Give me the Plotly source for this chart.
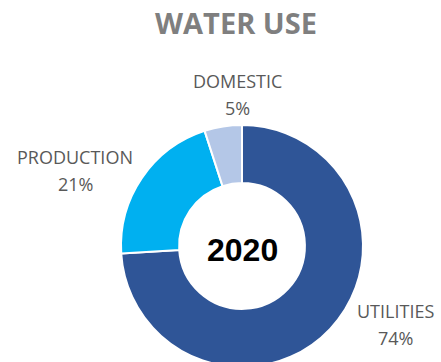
import plotly.graph_objects as go

# Water use breakdown, 2020
categories = ["UTILITIES", "PRODUCTION", "DOMESTIC"]
shares = [74, 21, 5]
colors = ["#2F5597", "#00B0F0", "#B4C7E7"]
title_text = "WATER USE"
year_text = "2020"

W, H = 441, 400  # canvas taller than the window, so the ring runs off the bottom edge


def px(x, y):
    """Pixel position (from top-left) to paper coordinates."""
    return x / W, 1 - y / H


# ring geometry in pixels
cx, cy, r = 242, 246, 121
x0, y_top = px(cx - r, cy - r)
x1, y_bot = px(cx + r, cy + r)

fig = go.Figure(
    go.Pie(
        labels=categories,
        values=shares,
        hole=0.52,
        sort=False,
        direction="clockwise",
        rotation=0,
        marker=dict(colors=colors, line=dict(color="white", width=2)),
        textinfo="none",
        hoverinfo="label+percent",
        domain=dict(x=[x0, x1], y=[y_bot, y_top]),
        showlegend=False,
    )
)

# outside labels: category name on one line, its share on the next
label_pos = {
    "UTILITIES": (395, 311),
    "PRODUCTION": (75, 157),
    "DOMESTIC": (237, 81),
}
line_gap = 27
label_font = dict(family="Open Sans", size=18, color="#595959")
annotations = []
for cat, val in zip(categories, shares):
    bx, by = label_pos[cat]
    for text, yy_px in ((cat, by), (f"{val}%", by + line_gap)):
        lx, ly = px(bx, yy_px)
        annotations.append(
            dict(
                x=lx, y=ly, xref="paper", yref="paper",
                text=text, showarrow=False,
                xanchor="center", yanchor="middle",
                font=label_font,
            )
        )

# year in the middle of the ring
yx, yy = px(242, 250)
annotations.append(
    dict(
        x=yx, y=yy, xref="paper", yref="paper",
        text=f"<b>{year_text}</b>", showarrow=False,
        xanchor="center", yanchor="middle",
        font=dict(family="Liberation Sans", size=32, color="#000000"),
    )
)

tx, ty = px(236, 24)
fig.update_layout(
    width=W,
    height=H,
    margin=dict(l=0, r=0, t=0, b=0),
    paper_bgcolor="white",
    plot_bgcolor="white",
    title=dict(
        text=f"<b>{title_text}</b>",
        x=tx, y=ty, xanchor="center", yanchor="middle",
        xref="paper", yref="container",
        font=dict(family="Open Sans", size=29, color="#7F7F7F"),
    ),
    annotations=annotations,
)

fig.write_html(
    "out.html",
    config={"displayModeBar": False},
    post_script="document.documentElement.style.overflow='hidden';document.body.style.overflow='hidden';document.body.style.margin='0';",
)
